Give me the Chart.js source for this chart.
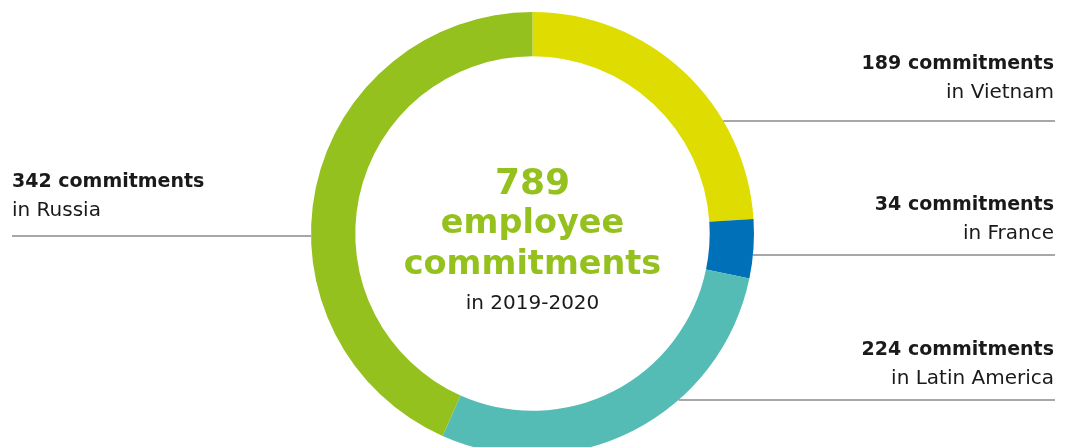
<!DOCTYPE html>
<html>
<head>
<meta charset="utf-8">
<script src="https://cdn.jsdelivr.net/npm/chart.js@4.4.1/dist/chart.umd.min.js"></script>
<style>
  html, body { margin: 0; padding: 0; background: #fff; overflow: hidden; }
  #wrap { width: 1069px; height: 460px; position: relative; }
</style>
</head>
<body>
<div id="wrap"><canvas id="chart"></canvas></div>
<script>
// values
const regions = ['Vietnam', 'France', 'Latin America', 'Russia']
const commitments = [189, 34, 224, 342]
const sliceColors = ['#dedc00', '#0071b9', '#55bcb5', '#95c11f']
const centerWords = ['employee', 'commitments']
const period = 'in 2019-2020'

// where each callout sits (bold line baseline, rule y)
const callouts = [
  { side: 'right', textY: 69, lineY: 121 },
  { side: 'right', textY: 210, lineY: 255 },
  { side: 'right', textY: 355, lineY: 400 },
  { side: 'left', textY: 187, lineY: 236 }
]

const FONT = '"DejaVu Sans", sans-serif'

const calloutPlugin = {
  id: 'callouts',
  afterDraw(chart) {
    const ctx = chart.ctx
    const arc = chart.getDatasetMeta(0).data[0]
    const cx = arc.x, cy = arc.y, r = arc.outerRadius
    const values = chart.data.datasets[0].data
    const total = values.reduce((a, b) => a + b, 0)

    ctx.save()
    // centre text
    ctx.textAlign = 'center'
    ctx.fillStyle = '#95c11f'
    ctx.font = 'bold 36px ' + FONT
    ctx.fillText(String(total), cx, 194)
    ctx.font = 'bold 33.5px ' + FONT
    ctx.fillText(centerWords[0], cx, 233)
    ctx.fillText(centerWords[1], cx, 274)
    ctx.fillStyle = '#1a1a1a'
    ctx.font = '20px ' + FONT
    ctx.fillText(period, cx, 309)

    // side labels with rules
    callouts.forEach((c, i) => {
      const dy = c.lineY - cy
      const dx = Math.sqrt(Math.max(r * r - dy * dy, 0))
      const right = c.side === 'right'
      const x0 = right ? cx + dx : 12
      const x1 = right ? 1055 : cx - dx
      ctx.strokeStyle = '#8a8a8a'
      ctx.lineWidth = 1.5
      ctx.beginPath()
      ctx.moveTo(x0, c.lineY)
      ctx.lineTo(x1, c.lineY)
      ctx.stroke()

      ctx.textAlign = right ? 'right' : 'left'
      const tx = right ? 1054 : 12
      ctx.fillStyle = '#1a1a1a'
      ctx.font = 'bold 19px ' + FONT
      ctx.fillText(values[i] + ' commitments', tx, c.textY)
      ctx.font = '20px ' + FONT
      ctx.fillText('in ' + chart.data.labels[i], tx, c.textY + 29)
    })
    ctx.restore()
  }
}

new Chart(document.getElementById('chart'), {
  type: 'doughnut',
  data: {
    labels: regions,
    datasets: [{
      data: commitments,
      backgroundColor: sliceColors,
      borderWidth: 0
    }]
  },
  options: {
    responsive: true,
    maintainAspectRatio: false,
    animation: false,
    cutout: '80%',
    layout: { padding: { top: 12, right: 4, bottom: 5, left: 0 } },
    plugins: {
      legend: { display: false },
      tooltip: { enabled: false }
    }
  },
  plugins: [calloutPlugin]
})
</script>
</body>
</html>
